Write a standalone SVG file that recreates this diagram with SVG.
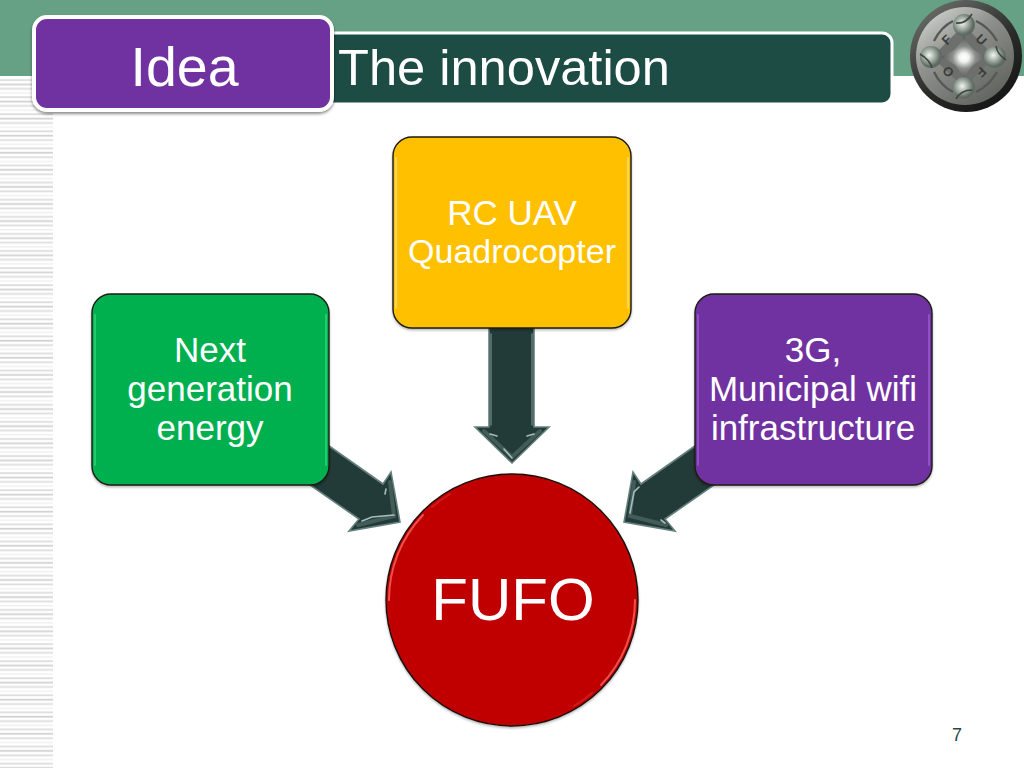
<svg xmlns="http://www.w3.org/2000/svg" width="1024" height="768" viewBox="0 0 1024 768">
<style>
text{font-family:"Liberation Sans",Arial,sans-serif;fill:#fff;text-anchor:middle}
.t{font-size:35px}
.box{stroke:#1c1c14;stroke-width:1.4;filter:url(#sh2)}
.arrow{fill:#223a38;stroke:#66807d;stroke-width:1.6;stroke-linejoin:miter}
.band{fill:none;stroke:#435c5a;stroke-width:4;stroke-linecap:round}
.hl{fill:none;stroke:#a6bcba;stroke-width:1.6;stroke-linecap:round}
.bev{fill:none;stroke-width:2;stroke-linecap:round}
.lt{fill:#3a3d3a;font-size:13px;font-weight:bold}
</style>
<defs>
<pattern id="st" width="53" height="17.09" patternUnits="userSpaceOnUse" y="78">
<rect y="1.2" width="53" height="1.8" fill="#dddddd"/><rect y="5.5" width="53" height="1.8" fill="#d2d2d2"/><rect y="9.9" width="53" height="1.8" fill="#dedede"/><rect y="14.2" width="53" height="1.6" fill="#f1f1f1"/>
</pattern>
<linearGradient id="lg" x1=".1" y1="0" x2=".85" y2="1"><stop offset="0" stop-color="#d6d8d4"/><stop offset=".4" stop-color="#8f918d"/><stop offset="1" stop-color="#5c5e5a"/></linearGradient>
<linearGradient id="rim" x1=".15" y1="0" x2=".85" y2="1"><stop offset="0" stop-color="#6f716d"/><stop offset=".55" stop-color="#2b2c2a"/><stop offset="1" stop-color="#111"/></linearGradient>
<radialGradient id="star"><stop offset="0" stop-color="#fff"/><stop offset=".18" stop-color="#f2f4f2"/><stop offset=".45" stop-color="#8a8d8a"/><stop offset="1" stop-color="#4a4d4a"/></radialGradient>
<radialGradient id="ball" cx=".42" cy=".42"><stop offset="0" stop-color="#f2f6f2"/><stop offset=".45" stop-color="#aeb9b0"/><stop offset="1" stop-color="#5f6a62"/></radialGradient>
<filter id="sh" x="-10%" y="-10%" width="120%" height="125%"><feDropShadow dx="0" dy="2" stdDeviation="1.5" flood-color="#000" flood-opacity=".45"/></filter>
<filter id="sh2" x="-5%" y="-5%" width="110%" height="110%"><feDropShadow dx="0" dy="1.5" stdDeviation="1.2" flood-color="#000" flood-opacity=".3"/></filter>
</defs>
<g id="background">
<rect width="1024" height="768" fill="#fff"/>
<rect width="1024" height="76" fill="#66a085"/>
<rect y="77" width="53" height="691" fill="url(#st)"/>
</g>
<g id="title-bar">
<rect x="300" y="33" width="592" height="71" rx="10" fill="#1d4c44" stroke="#fff" stroke-width="3"/>
<text x="338" y="85" font-size="50.6" style="text-anchor:start">The innovation</text>
</g>
<g id="idea-tab">
<rect x="34" y="17" width="298" height="93" rx="13" fill="#7030a0" stroke="#fff" stroke-width="4" filter="url(#sh)"/>
<text x="184.500" y="86" font-size="55.5">Idea</text>
</g>
<g id="logo">
<circle cx="966" cy="56" r="56" fill="url(#rim)"/>
<circle cx="965" cy="56" r="49" fill="url(#lg)"/>
<path d="M964 25L995 57L964 88L932 57Z" fill="#6c6f6c"/>
<g fill="none" stroke="#565856" stroke-width="2.4">
<path d="M934 41Q941 27 953 21"/><path d="M976 21Q989 27 997 41"/><path d="M997 72Q989 86 976 92"/><path d="M953 92Q941 86 934 72"/>
</g>
<path d="M964 33Q968 52 990 57Q968 62 964 82Q960 62 938 57Q960 52 964 33Z" fill="url(#star)"/>
<circle cx="964" cy="25" r="11" fill="url(#ball)"/><circle cx="995" cy="57" r="11" fill="url(#ball)"/><circle cx="964" cy="88" r="11" fill="url(#ball)"/><circle cx="931" cy="57" r="11" fill="url(#ball)"/>
<g fill="none" stroke="#3f4540" stroke-width="1.6">
<path d="M972 14Q966 24 956 23"/><path d="M1006 60Q997 54 996 46"/><path d="M956 99Q961 90 972 90"/><path d="M920 54Q930 60 932 68"/>
</g>
<text class="lt" x="947" y="44" transform="rotate(-45 947 40)">F</text>
<text class="lt" x="981" y="44" transform="rotate(45 981 40)">U</text>
<text class="lt" x="981" y="76" transform="rotate(135 981 72)">F</text>
<text class="lt" x="948" y="76" transform="rotate(45 948 72)">O</text>
</g>
<g id="connectors">
<path class="arrow" d="M489 320H534V427H549L512 463L475 427H489Z"/>
<path class="band" d="M484 431L512 457L540 431"/>
<path class="hl" d="M491 334V425M532 334V425" style="stroke:#5f7977"/>
<path class="hl" d="M490 434L497 436M534 434L527 436M512 458L504 449"/>
<path class="arrow" d="M322 441L383 484L391 472L400 522L349 531L359 519L300 478Z"/>
<path class="band" d="M390 482L394 516L358 525"/>
<path class="hl" d="M386 489L385 494M362 521L372 517L394 515"/>
<path class="arrow" d="M702 441L641 484L633 472L624 522L675 531L665 519L724 478Z"/>
<path class="band" d="M634 482L630 516L666 525"/>
<path class="hl" d="M639 487L634 492L630 513M661 520L665 523"/>
</g>
<g id="node-rc-uav">
<rect class="box" x="393" y="137" width="238" height="191" rx="19" fill="#ffc000"/>
<path class="bev" stroke="#ffd45a" d="M396 158V308M628 158V308"/>
<text class="t" x="512" y="225">RC UAV</text><text class="t" x="512" y="263" style="font-size:34px">Quadrocopter</text>
</g>
<g id="node-energy">
<rect class="box" x="92" y="294" width="237" height="191" rx="19" fill="#00b050"/>
<path class="bev" stroke="#22cb72" d="M95 315V465M326 315V465"/>
<text class="t" x="210" y="362">Next</text><text class="t" x="210" y="401">generation</text><text class="t" x="210" y="440">energy</text>
</g>
<g id="node-wifi">
<rect class="box" x="695" y="294" width="237" height="191" rx="19" fill="#7030a0"/>
<path class="bev" stroke="#8e50c4" d="M698 315V465M929 315V465"/>
<text class="t" x="813" y="362">3G,</text><text class="t" x="813" y="401">Municipal wifi</text><text class="t" x="813" y="440">infrastructure</text>
</g>
<g id="node-fufo">
<circle cx="512" cy="600" r="126" fill="#c00000" stroke="#1c1010" stroke-width="1.4" filter="url(#sh2)"/>
<path class="bev" stroke="#f0504a" d="M389 600A123 123 0 0 1 423 515"/>
<path class="bev" stroke="#f0504a" d="M635 600A123 123 0 0 1 601 685"/>
<path class="bev" stroke="#d01c18" d="M432 507A123 123 0 0 1 450 494M592 693A123 123 0 0 1 574 706"/>
<text x="513" y="620" font-size="60">FUFO</text>
</g>
<text id="page-number" x="957" y="741" font-size="18" style="fill:#1d4c44">7</text>
</svg>
